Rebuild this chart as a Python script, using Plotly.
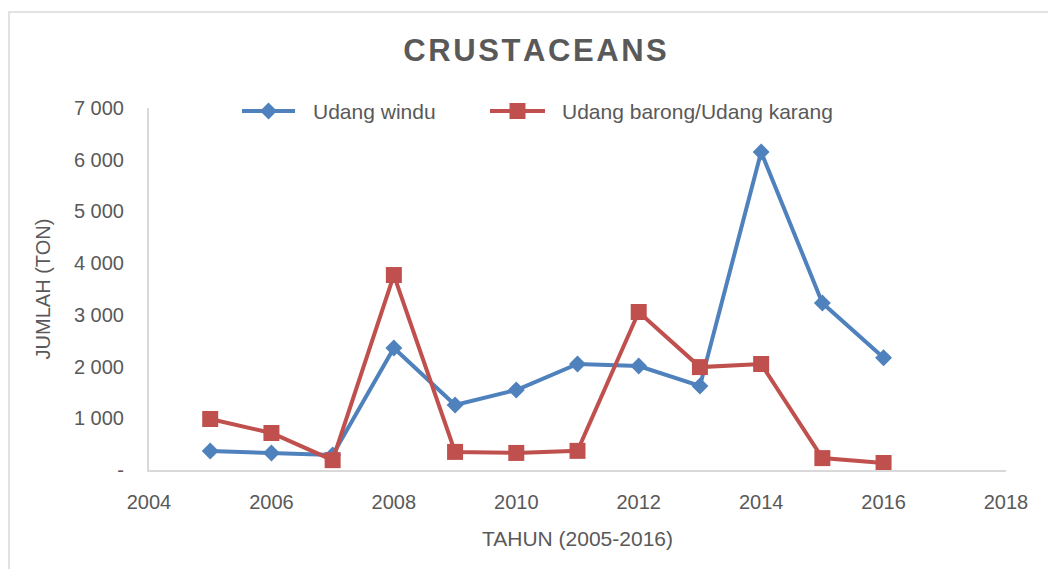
import plotly.graph_objects as go

years = [2005, 2006, 2007, 2008, 2009, 2010, 2011, 2012, 2013, 2014, 2015, 2016]
udang_windu = [367, 330, 290, 2360, 1257, 1547, 2050, 2010, 1625, 6150, 3230, 2170]
udang_barong = [986, 715, 190, 3770, 350, 330, 370, 3055, 1990, 2050, 230, 135]

series_names = ["Udang windu", "Udang barong/Udang karang"]
series_colors = ["#4F81BD", "#C0504D"]
y_ticks = [0, 1000, 2000, 3000, 4000, 5000, 6000, 7000]
y_labels = ["-", "1 000", "2 000", "3 000", "4 000", "5 000", "6 000", "7 000"]
x_ticks = [2004, 2006, 2008, 2010, 2012, 2014, 2016, 2018]

font_fam = "Liberation Sans, Arial, sans-serif"
gray = "#595959"
title_text = "\u200a".join("CRUSTACEANS")

fig = go.Figure()
fig.add_trace(go.Scatter(
    x=years, y=udang_windu, name=series_names[0], mode="lines+markers",
    line=dict(color=series_colors[0], width=4),
    marker=dict(symbol="diamond", size=13, color=series_colors[0]),
))
fig.add_trace(go.Scatter(
    x=years, y=udang_barong, name=series_names[1], mode="lines+markers",
    line=dict(color=series_colors[1], width=4),
    marker=dict(symbol="square", size=16, color=series_colors[1]),
))

# manual legend (line + marker + text), positioned in paper coordinates
leg_y = 0.9917
leg_items = [
    dict(x0=(242 - 149) / 857, x1=(295 - 149) / 857, tx=(311 - 149) / 857,
         marker="diamond"),
    dict(x0=(490 - 149) / 857, x1=(545 - 149) / 857, tx=(560 - 149) / 857,
         marker="square"),
]
shapes = []
annotations = []
for item, name, col in zip(leg_items, series_names, series_colors):
    shapes.append(dict(type="line", xref="paper", yref="paper",
                       x0=item["x0"], x1=item["x1"], y0=leg_y, y1=leg_y,
                       line=dict(color=col, width=4)))
    xm = (item["x0"] + item["x1"]) / 2
    if item["marker"] == "diamond":
        shapes.append(dict(type="path", xref="paper", yref="paper",
                           xsizemode="pixel", ysizemode="pixel",
                           xanchor=xm, yanchor=leg_y,
                           path="M -8.5 0 L 0 8.5 L 8.5 0 L 0 -8.5 Z",
                           fillcolor=col, line=dict(width=0)))
    else:
        shapes.append(dict(type="rect", xref="paper", yref="paper",
                           xsizemode="pixel", ysizemode="pixel",
                           xanchor=xm, yanchor=leg_y,
                           x0=-8, x1=8, y0=-8, y1=8,
                           fillcolor=col, line=dict(width=0)))
    annotations.append(dict(text=name, xref="paper", yref="paper",
                            x=item["tx"], y=leg_y, xanchor="left", yanchor="middle",
                            showarrow=False, font=dict(size=21, color=gray, family=font_fam)))

# outer chart border (left and top edges visible)
shapes.append(dict(type="rect", xref="paper", yref="paper",
                   x0=(9 - 149) / 857, x1=1.2, y0=-0.5, y1=(470 - 12) / 362,
                   line=dict(color="#D9D9D9", width=1.5), fillcolor="rgba(0,0,0,0)",
                   layer="below"))

fig.update_layout(
    width=1040, height=561,
    paper_bgcolor="white", plot_bgcolor="white",
    margin=dict(l=141, r=42, t=100, b=99),
    title=dict(text="<b>" + title_text + "</b>", xref="container", x=527 / 1040,
               xanchor="center", yref="container", y=1 - 42.5 / 561, yanchor="middle",
               font=dict(family=font_fam, size=31, color=gray)),
    font=dict(family=font_fam, size=20, color=gray),
    showlegend=False,
    shapes=shapes,
    annotations=annotations,
    xaxis=dict(range=[2004, 2018], tickvals=x_ticks, showgrid=False, zeroline=False,
               showline=True, linecolor="#D9D9D9", linewidth=2, ticks="",
               ticklabelstandoff=13, automargin=False,
               title=dict(text="TAHUN (2005-2016)", font=dict(size=21, color=gray), standoff=19),
               tickfont=dict(size=20, color=gray)),
    yaxis=dict(range=[0, 7000], tickvals=y_ticks, ticktext=y_labels, showgrid=False, zeroline=False,
               showline=True, linecolor="#D9D9D9", linewidth=2, ticks="",
               ticklabelstandoff=19, automargin=False,
               title=dict(text="JUMLAH (TON)", font=dict(size=20, color=gray), standoff=18),
               tickfont=dict(size=20, color=gray)),
)

fig.write_html("out.html")
